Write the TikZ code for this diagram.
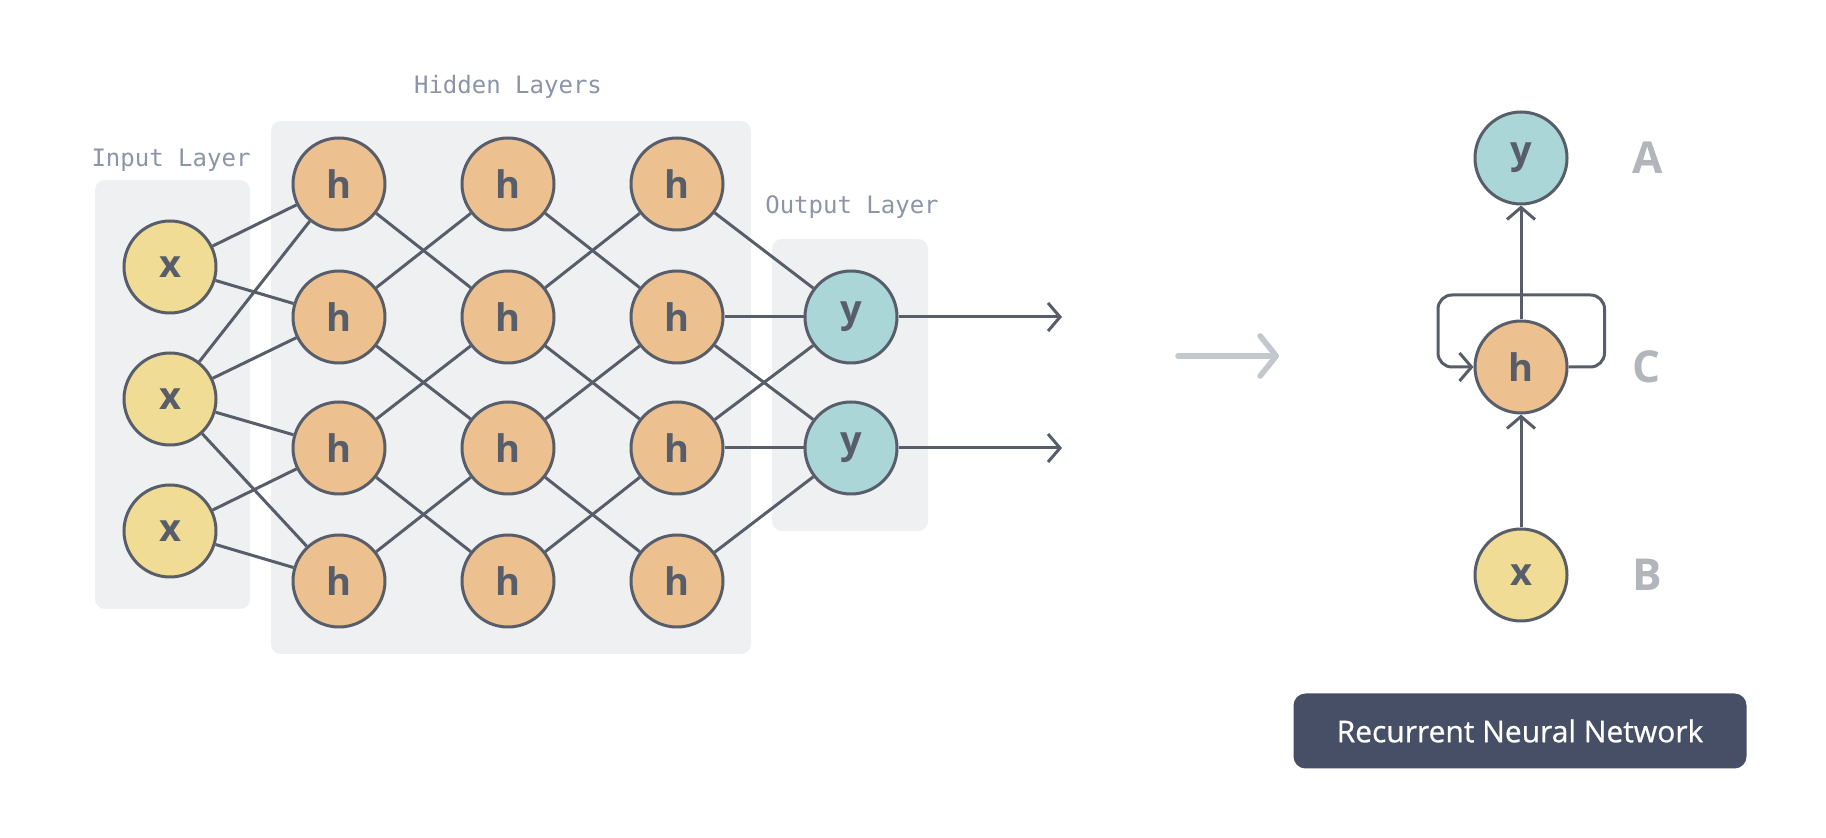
\documentclass[tikz,border=0pt]{standalone}
\usepackage{fontspec}
\setsansfont{Open Sans}
\newfontfamily\monofont{DejaVu Sans Mono}
\newfontfamily\btnfont{Open Sans}[FakeBold=0.7]
\usetikzlibrary{arrows.meta}

\definecolor{wire}{HTML}{575E69}
\definecolor{xfill}{HTML}{F0DC95}
\definecolor{hfill}{HTML}{ECC08F}
\definecolor{yfill}{HTML}{AAD6D8}
\definecolor{panel}{HTML}{EEF0F2}
\definecolor{tagtext}{HTML}{8C94A8}
\definecolor{lettergray}{HTML}{B2B5B9}
\definecolor{midgray}{HTML}{C4C7CC}
\definecolor{btn}{HTML}{474F66}

\begin{document}
\begin{tikzpicture}
        [x=0.5pt,y=-0.5pt,>={Straight Barb[length=6pt,width=14pt]}]
            \tikzstyle{every node}=[font=\sffamily]
            \tikzstyle{unit}=[circle, draw=wire, line width=1.5pt, minimum size=46pt,
        inner sep=0pt, text=wire, font=\sffamily\bfseries\fontsize{19}{19}\selectfont]
            \tikzstyle{xin}=[unit, fill=xfill]
            \tikzstyle{hid}=[unit, fill=hfill]
            \tikzstyle{yout}=[unit, fill=yfill]
            \tikzstyle{edge}=[draw=wire, line width=1.5pt]
            \tikzstyle{tag}=[text=tagtext, font=\monofont\fontsize{12}{12}\selectfont]
            \tikzstyle{lettertag}=[text=lettergray, inner sep=0pt, label distance=32pt,
        font=\sffamily\bfseries\fontsize{22}{22}\selectfont]
            \tikzstyle{layerbox}=[fill=panel, rounded corners=5pt]

         \fill[white] (0,0) rectangle (1826,838);
         \useasboundingbox (0,0) rectangle (1826,838);

        %-----layers
         \path[layerbox] (95,180) rectangle (250,609);
         \path[layerbox] (271,121) rectangle (751,654);
         \path[layerbox] (772,239) rectangle (928,531);
         \node[tag]  (TIN) at (171,160) {Input Layer};
         \node[tag]  (THID) at (508,87) {Hidden Layers};
         \node[tag]  (TOUT) at (852,207) {Output Layer};

        %-----input
         \node[xin]  (X1) at (170,267) {x};
         \node[xin]  (X2) at (170,399) {x};
         \node[xin]  (X3) at (170,531) {x};
        %-----hidden
         \node[hid]  (H11) at (339,184) {h};
         \node[hid]  (H12) at (339,317) {h};
         \node[hid]  (H13) at (339,448) {h};
         \node[hid]  (H14) at (339,581) {h};
         \node[hid]  (H21) at (508,184) {h};
         \node[hid]  (H22) at (508,317) {h};
         \node[hid]  (H23) at (508,448) {h};
         \node[hid]  (H24) at (508,581) {h};
         \node[hid]  (H31) at (677,184) {h};
         \node[hid]  (H32) at (677,317) {h};
         \node[hid]  (H33) at (677,448) {h};
         \node[hid]  (H34) at (677,581) {h};
        %-----output
         \node[yout]  (Y1) at (851,317) {y};
         \node[yout]  (Y2) at (851,448) {y};
         \coordinate (O1) at (1062,317);
         \coordinate (O2) at (1062,448);

         \foreach \from/\to in {X1/H11, X1/H12, X2/H11, X2/H12, X2/H13, X2/H14, X3/H13, X3/H14, H11/H22, H12/H21, H12/H23, H13/H22, H13/H24, H14/H23, H21/H32, H22/H31, H22/H33, H23/H32, H23/H34, H24/H33, H31/Y1, H32/Y1, H32/Y2, H33/Y1, H33/Y2, H34/Y2}
         \draw[edge] (\from) -- (\to);

          \draw[edge,->] (Y1) -- (O1);
          \draw[edge,->] (Y2) -- (O2);

        %-----arrow between
         \coordinate (M1) at (1178,356);
         \coordinate (M2) at (1279,356);
          \draw[line width=2.8pt, color=midgray, line cap=round,
        -{Straight Barb[length=8pt,width=20pt,round]}] (M1) -- (M2);

        %-----recurrent
         \node[yout, label={[lettertag]right:A}]  (RY) at (1521,158) {y};
         \node[hid, label={[lettertag]right:C}]  (RH) at (1521,367) {h};
         \node[xin, label={[lettertag]right:B}]  (RX) at (1521,575) {x};

          \draw[edge,->] (RX) -- (RH);
          \draw[edge,->] (RH) -- (RY);
          \draw[edge,->,rounded corners=7pt] (RH.east) -- ++(36,0) |- (1438,295) |- (RH.west);

         \node[fill=btn, text=white, rounded corners=6pt, minimum width=226.5pt, minimum height=37.5pt,
        font=\btnfont\fontsize{15}{15}\selectfont]
        (RNN) at (1520,731) {Recurrent Neural Network};

        \end{tikzpicture}
\end{document}
